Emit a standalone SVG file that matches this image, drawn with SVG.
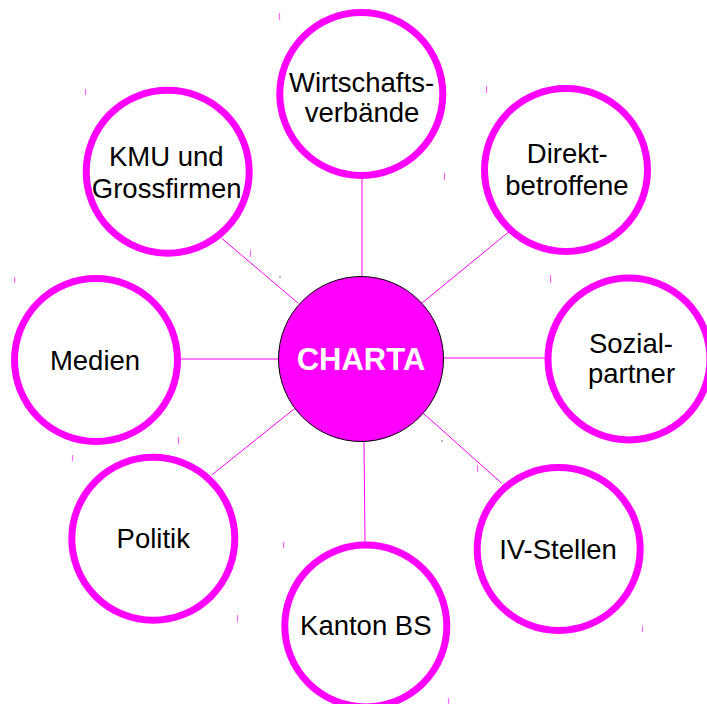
<svg xmlns="http://www.w3.org/2000/svg" width="707" height="704" viewBox="0 0 707 704">
<style>
.node{fill:#ffffff;stroke:#ff00ff;stroke-width:7}
.lbl{font-family:"Liberation Sans",Arial,sans-serif;font-size:27.5px;fill:#000000;text-anchor:middle}
.conn line{stroke:#ff00ff;stroke-width:1}
.tick{stroke:#ff66ff;stroke-width:1.2}
</style>
<rect width="707" height="704" fill="#ffffff"/>
<g id="connectors" class="conn">
<line x1="362" y1="277" x2="362" y2="174"/>
<line x1="364" y1="441" x2="365" y2="542"/>
<line x1="181" y1="359" x2="280" y2="359"/>
<line x1="441" y1="358" x2="546" y2="358"/>
<line x1="221.7" y1="238.3" x2="298.3" y2="303.3"/>
<line x1="421.7" y1="303.3" x2="509" y2="231.7"/>
<line x1="211.7" y1="475" x2="295" y2="408.3"/>
<line x1="423.3" y1="413.3" x2="501.7" y2="483.3"/>
</g>
<g id="ticks" class="tick">
<line x1="279.5" y1="13" x2="279.5" y2="20"/>
<line x1="444.5" y1="173" x2="444.5" y2="180"/>
<line x1="85.5" y1="89" x2="85.5" y2="95"/>
<line x1="250.5" y1="250" x2="250.5" y2="257"/>
<line x1="550.5" y1="275" x2="550.5" y2="283"/>
<line x1="14.5" y1="277" x2="14.5" y2="283"/>
<line x1="178.5" y1="437" x2="178.5" y2="444"/>
<line x1="72.5" y1="455" x2="72.5" y2="461"/>
<line x1="283.5" y1="542" x2="283.5" y2="548"/>
<line x1="448.5" y1="698" x2="448.5" y2="704"/>
<line x1="237.5" y1="615" x2="237.5" y2="622"/>
<line x1="477.5" y1="465" x2="477.5" y2="472"/>
<line x1="642.5" y1="626" x2="642.5" y2="632"/>
<line x1="486.5" y1="86" x2="486.5" y2="93"/>
</g>
<circle cx="280" cy="277" r="0.7" fill="#333"/>
<circle cx="442" cy="441" r="0.7" fill="#333"/>
<g id="n-center">
<circle cx="361" cy="359" r="82.5" fill="#ff00ff" stroke="#000000" stroke-width="1"/>
<text x="361" y="370" font-family="'Liberation Sans',Arial,sans-serif" font-size="31" font-weight="bold" fill="#ffffff" text-anchor="middle">CHARTA</text>
</g>
<g id="n-wirtschaft">
<circle class="node" cx="361.3" cy="94" r="81.5"/>
<text class="lbl" x="361.5" y="91.7">Wirtschafts-</text>
<text class="lbl" x="362" y="121.7">verbände</text>
</g>
<g id="n-direkt">
<circle class="node" cx="566" cy="170" r="81.5"/>
<text class="lbl" x="567.3" y="162.7">Direkt-</text>
<text class="lbl" x="567" y="195">betroffene</text>
</g>
<g id="n-sozial">
<circle class="node" cx="629" cy="359" r="81"/>
<text class="lbl" x="631" y="353">Sozial-</text>
<text class="lbl" x="631.5" y="383">partner</text>
</g>
<g id="n-iv">
<circle class="node" cx="558.7" cy="549" r="81.5"/>
<text class="lbl" x="558" y="559">IV-Stellen</text>
</g>
<g id="n-kanton">
<circle class="node" cx="365.8" cy="626" r="81"/>
<text class="lbl" x="365.8" y="635">Kanton BS</text>
</g>
<g id="n-politik">
<circle class="node" cx="153.3" cy="538.8" r="81.5"/>
<text class="lbl" x="153.3" y="548.3">Politik</text>
</g>
<g id="n-medien">
<circle class="node" cx="96" cy="360" r="81.5"/>
<text class="lbl" x="95" y="370">Medien</text>
</g>
<g id="n-kmu">
<circle class="node" cx="167.7" cy="171.7" r="81.5"/>
<text class="lbl" x="166.3" y="166">KMU und</text>
<text class="lbl" x="166.7" y="198.3">Grossfirmen</text>
</g>
</svg>
